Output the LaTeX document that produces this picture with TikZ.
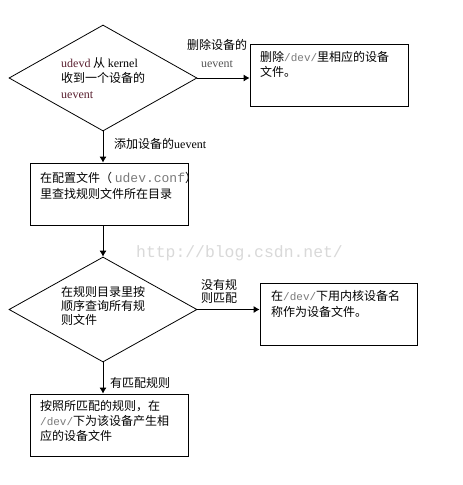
\documentclass[tikz,border=0pt]{standalone}
\usepackage{fontspec}
\setmainfont{Liberation Serif}
\setmonofont{Liberation Mono}
\newfontfamily\cjk{Noto Sans CJK SC}
\usetikzlibrary{shapes.geometric,arrows.meta}
\definecolor{devgray}{HTML}{7A7A7A}
\definecolor{udcol}{HTML}{5A2030}
\definecolor{wmgray}{HTML}{D9D9D9}
\newcommand\lat[1]{{\rmfamily #1}}
\newcommand\mono[1]{{\ttfamily\fontsize{11}{15}\selectfont\color{devgray}#1}}
\tikzset{
  txt/.style={anchor=north west, inner sep=0pt, align=left, font=\cjk\fontsize{12}{15}\selectfont},
  boxnode/.style={draw, line width=0.8pt, minimum width=158pt, minimum height=62pt, inner sep=0pt},
  dianode/.style={diamond, draw, line width=0.8pt, minimum width=188pt, minimum height=106pt, inner sep=0pt},
  arr/.style={-{Latex[length=6pt,width=7pt]}, line width=0.8pt},
}
\begin{document}
\begin{tikzpicture}[x=1pt,y=-1pt]
\useasboundingbox[fill=white] (0,0) rectangle (463,485);
% shapes
\node[dianode] (d1) at (103,78) {};
\node[boxnode] (b1) at (329,75) {};
\node[boxnode] (b2) at (109,194) {};
\node[dianode, minimum height=105pt] (d2) at (103,309.5) {};
\node[boxnode, minimum width=157pt] (b3) at (338.5,314) {};
\node[boxnode] (b4) at (109,425) {};
% watermark
\node[inner sep=0pt, font=\ttfamily\fontsize{16.4}{18}\selectfont, text=wmgray] (wm) at (239.5,253) {http://blog.csdn.net/};
% texts
\node[txt, font=\cjk\fontsize{12}{15.5}\selectfont] (t1) at (61,57) {\lat{\color{udcol}udevd} 从 \lat{kernel}\\收到一个设备的\\\lat{\color{udcol}uevent}};
\node[txt] (t2) at (260,51) {删除\mono{/dev/}里相应的设备\\文件。};
\begin{scope}
\clip (b2.north west) rectangle (b2.south east);
\node[txt, font=\cjk\fontsize{12}{16}\selectfont] (t3) at (40,172) {在配置文件（ \mono{\fontsize{13}{16}\selectfont udev.conf}）\\里查找规则文件所在目录};
\end{scope}
\node[txt, font=\cjk\fontsize{12}{14}\selectfont] (t4) at (61,286) {在规则目录里按\\顺序查询所有规\\则文件};
\node[txt, font=\cjk\fontsize{12}{16}\selectfont] (t5) at (271,290) {在\mono{/dev/}下用内核设备名\\称作为设备文件。};
\node[txt] (t6) at (40,400) {按照所匹配的规则，在\\\mono{/dev/}下为该设备产生相\\应的设备文件};
% labels
\node[txt, anchor=north, align=center, font=\cjk\fontsize{12}{18}\selectfont] (l1) at (217,39) {删除设备的\\\lat{\color{devgray!70!black}uevent}};
\node[txt] (l2) at (114,138) {添加设备的\lat{uevent}};
\node[txt, font=\cjk\fontsize{12}{13}\selectfont] (l3) at (201,279) {没有规\\则匹配};
\node[txt] (l4) at (110,377) {有匹配规则};
% connectors
\draw[arr] (d1.east) -- (d1.east -| b1.west);
\draw[arr] (d1.south) -- (d1.south |- b2.north);
\draw[arr] (d2.north |- b2.south) -- (d2.north);
\draw[arr] (d2.east) -- (d2.east -| b3.west);
\draw[arr] (d2.south) -- (d2.south |- b4.north);
\end{tikzpicture}
\end{document}
